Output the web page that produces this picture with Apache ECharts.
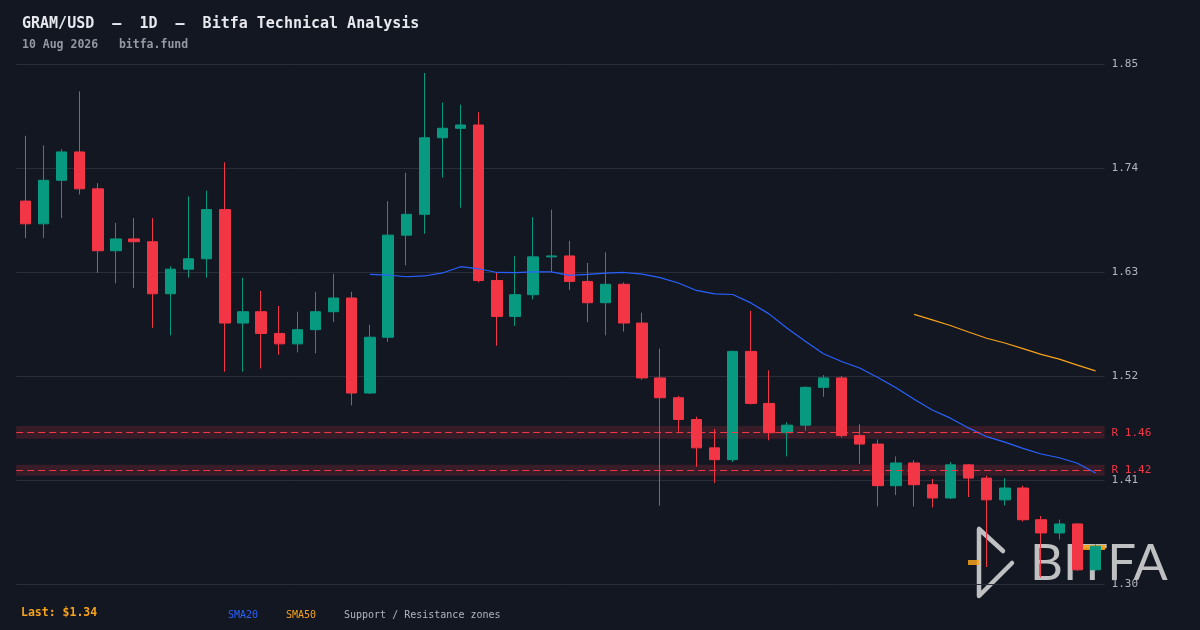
<!DOCTYPE html>
<html>
<head>
<meta charset="utf-8">
<script src="https://cdn.jsdelivr.net/npm/echarts@6/dist/echarts.min.js"></script>
<style>
  html, body { margin: 0; padding: 0; background: #131722; }
  #chart { width: 1200px; height: 630px; }
</style>
</head>
<body>
<div id="chart"></div>
<script>
const dates = [
  '06-12','06-13','06-14','06-15','06-16','06-17','06-18','06-19','06-20','06-21',
  '06-22','06-23','06-24','06-25','06-26','06-27','06-28','06-29','06-30','07-01',
  '07-02','07-03','07-04','07-05','07-06','07-07','07-08','07-09','07-10','07-11',
  '07-12','07-13','07-14','07-15','07-16','07-17','07-18','07-19','07-20','07-21',
  '07-22','07-23','07-24','07-25','07-26','07-27','07-28','07-29','07-30','07-31',
  '08-01','08-02','08-03','08-04','08-05','08-06','08-07','08-08','08-09','08-10'
]

const opens = [
  1.705, 1.681, 1.727, 1.757, 1.718, 1.6525, 1.665, 1.662, 1.607, 1.633,
  1.644, 1.696, 1.576, 1.588, 1.565, 1.554, 1.569, 1.588, 1.6025, 1.502,
  1.561, 1.669, 1.691, 1.772, 1.782, 1.7855, 1.621, 1.583, 1.606, 1.646,
  1.647, 1.620, 1.5975, 1.617, 1.576, 1.518, 1.497, 1.474, 1.444, 1.4315,
  1.546, 1.491, 1.460, 1.468, 1.508, 1.518, 1.457, 1.448, 1.404, 1.428,
  1.405, 1.391, 1.426, 1.412, 1.389, 1.4015, 1.368, 1.354, 1.3635, 1.315
]
const closes = [
  1.681, 1.727, 1.757, 1.718, 1.6525, 1.665, 1.662, 1.607, 1.633, 1.644,
  1.696, 1.576, 1.588, 1.565, 1.554, 1.569, 1.588, 1.6025, 1.502, 1.561,
  1.669, 1.691, 1.772, 1.782, 1.7855, 1.621, 1.583, 1.606, 1.646, 1.647,
  1.620, 1.5975, 1.617, 1.576, 1.518, 1.497, 1.474, 1.444, 1.4315, 1.546,
  1.491, 1.460, 1.468, 1.508, 1.518, 1.457, 1.448, 1.404, 1.428, 1.405,
  1.391, 1.426, 1.412, 1.389, 1.4015, 1.368, 1.354, 1.3635, 1.315, 1.340
]
const lows = [
  1.666, 1.666, 1.687, 1.712, 1.629, 1.618, 1.613, 1.571, 1.563, 1.624,
  1.624, 1.5245, 1.5245, 1.528, 1.5425, 1.545, 1.544, 1.577, 1.489, 1.501,
  1.556, 1.637, 1.6705, 1.730, 1.698, 1.619, 1.552, 1.573, 1.601, 1.630,
  1.611, 1.577, 1.563, 1.567, 1.516, 1.383, 1.461, 1.424, 1.407, 1.429,
  1.490, 1.452, 1.435, 1.462, 1.498, 1.455, 1.427, 1.382, 1.394, 1.382,
  1.381, 1.390, 1.392, 1.318, 1.383, 1.366, 1.307, 1.347, 1.314, 1.314
]
const highs = [
  1.774, 1.764, 1.760, 1.821, 1.724, 1.682, 1.687, 1.687, 1.636, 1.710,
  1.716, 1.746, 1.624, 1.610, 1.594, 1.588, 1.609, 1.628, 1.609, 1.574,
  1.705, 1.735, 1.8405, 1.809, 1.807, 1.799, 1.629, 1.647, 1.688, 1.696,
  1.663, 1.6395, 1.651, 1.619, 1.587, 1.549, 1.499, 1.477, 1.464, 1.547,
  1.589, 1.526, 1.471, 1.509, 1.521, 1.520, 1.469, 1.453, 1.435, 1.431,
  1.411, 1.429, 1.427, 1.4145, 1.412, 1.404, 1.372, 1.368, 1.3645, 1.342
]

// moving averages ('-' = no value yet)
const sma20 = [
  '-', '-', '-', '-', '-', '-', '-', '-', '-', '-',
  '-', '-', '-', '-', '-', '-', '-', '-', '-', 1.6274,
  1.6268, 1.6250, 1.6258, 1.6290, 1.6356, 1.6334, 1.6295, 1.6294, 1.6301, 1.6302,
  1.6264, 1.6275, 1.6289, 1.6295, 1.6277, 1.6241, 1.6184, 1.6105, 1.6069, 1.6062,
  1.5973, 1.5857, 1.5705, 1.5568, 1.5435, 1.5353, 1.5285, 1.5184, 1.5075, 1.4954,
  1.4840, 1.4754, 1.4651, 1.4558, 1.4500, 1.4435, 1.4375, 1.4335, 1.4277, 1.4174
]
const sma50 = [
  '-', '-', '-', '-', '-', '-', '-', '-', '-', '-',
  '-', '-', '-', '-', '-', '-', '-', '-', '-', '-',
  '-', '-', '-', '-', '-', '-', '-', '-', '-', '-',
  '-', '-', '-', '-', '-', '-', '-', '-', '-', '-',
  '-', '-', '-', '-', '-', '-', '-', '-', '-', 1.5852,
  1.5794, 1.5734, 1.5665, 1.5599, 1.5549, 1.5489, 1.5428, 1.5379, 1.5315, 1.5254
]

const yTicks = [1.30, 1.41, 1.52, 1.63, 1.74, 1.85]
const resistance = [1.46, 1.42]
const zones = [[1.4535, 1.4670], [1.4145, 1.4260]]
const lastPrice = 1.34

const UP = '#089981'
const DOWN = '#f23645'
const MONO = '"DejaVu Sans Mono", monospace'

const candles = dates.map((d, i) => [opens[i], closes[i], lows[i], highs[i]])

const chart = echarts.init(document.getElementById('chart'))

const option = {
  backgroundColor: '#131722',
  animation: false,
  grid: { left: 16.2, right: 95.4, top: 64, bottom: 46 },
  xAxis: {
    type: 'category',
    data: dates,
    axisLine: { show: false },
    axisTick: { show: false },
    axisLabel: { show: false },
    splitLine: { show: false },
  },
  yAxis: {
    type: 'value',
    position: 'right',
    min: 1.30,
    max: 1.85,
    axisLine: { show: false },
    axisTick: { show: false, customValues: yTicks },
    axisLabel: {
      customValues: yTicks,
      color: '#b2b5be',
      fontFamily: MONO,
      fontSize: 11,
      margin: 7,
      formatter: (v) => v.toFixed(2),
    },
    splitLine: { lineStyle: { color: '#2a2e39', width: 1 } },
  },
  series: [
    {
      name: 'GRAM/USD',
      type: 'candlestick',
      data: candles,
      barWidth: '60%',
      itemStyle: {
        color: UP,
        color0: DOWN,
        borderColor: UP,
        borderColor0: DOWN,
        borderWidth: 1,
      },
      markArea: {
        silent: true,
        itemStyle: { color: 'rgba(242, 54, 69, 0.17)' },
        data: zones.map((z) => [{ yAxis: z[0] }, { yAxis: z[1] }]),
      },
      markLine: {
        silent: true,
        symbol: 'none',
        lineStyle: { color: DOWN, type: [7, 4], width: 1.2 },
        label: {
          position: 'end',
          distance: 7,
          color: DOWN,
          fontFamily: MONO,
          fontSize: 11,
          formatter: (p) => 'R ' + p.value.toFixed(2),
        },
        data: resistance.map((r) => ({ yAxis: r })),
      },
    },
    {
      name: 'SMA20',
      type: 'line',
      data: sma20,
      showSymbol: false,
      lineStyle: { color: '#2962ff', width: 1.2 },
      z: 3,
    },
    {
      name: 'SMA50',
      type: 'line',
      data: sma50,
      showSymbol: false,
      lineStyle: { color: '#f7a21b', width: 1.2 },
      z: 3,
    },
  ],
  graphic: [
    {
      type: 'text', left: 22, top: 17,
      style: { text: 'GRAM/USD  —  1D  —  Bitfa Technical Analysis', fill: '#e6e8ee', font: 'bold 15px ' + MONO },
    },
    {
      type: 'text', left: 22, top: 39,
      style: { text: '10 Aug 2026   bitfa.fund', fill: '#9598a1', font: 'bold 11.5px ' + MONO },
    },
    {
      type: 'text', left: 21, top: 607,
      style: { text: 'Last: $' + lastPrice.toFixed(2), fill: '#f7a21b', font: 'bold 11.5px ' + MONO },
    },
    {
      type: 'text', left: 228, top: 610,
      style: { text: 'SMA20', fill: '#2962ff', font: '10px ' + MONO },
    },
    {
      type: 'text', left: 286, top: 610,
      style: { text: 'SMA50', fill: '#f7a21b', font: '10px ' + MONO },
    },
    {
      type: 'text', left: 344, top: 610,
      style: { text: 'Support / Resistance zones', fill: '#b2b5be', font: '10px ' + MONO },
    },
    // watermark
    {
      type: 'group', z: 100, silent: true,
      children: [
        {
          type: 'polyline',
          shape: { points: [[1003, 551], [979, 529], [979, 596], [1012, 563]] },
          style: { stroke: 'rgba(222, 222, 222, 0.85)', lineWidth: 4.5, lineCap: 'round', lineJoin: 'round', fill: null },
        },
        {
          type: 'rect', shape: { x: 968, y: 560, width: 11, height: 5 },
          style: { fill: 'rgba(247, 162, 27, 0.85)' },
        },
        {
          type: 'text', x: 1030, y: 564,
          style: {
            text: 'BITFA', fill: 'rgba(222, 222, 222, 0.85)',
            font: '51px Lato, "Noto Sans", sans-serif', verticalAlign: 'middle',
          },
        },
        {
          type: 'rect', shape: { x: 1076, y: 545, width: 29, height: 5 },
          style: { fill: 'rgba(247, 162, 27, 0.9)' },
        },
      ],
    },
  ],
}

chart.setOption(option)
window.addEventListener('resize', () => chart.resize())
</script>
</body>
</html>
